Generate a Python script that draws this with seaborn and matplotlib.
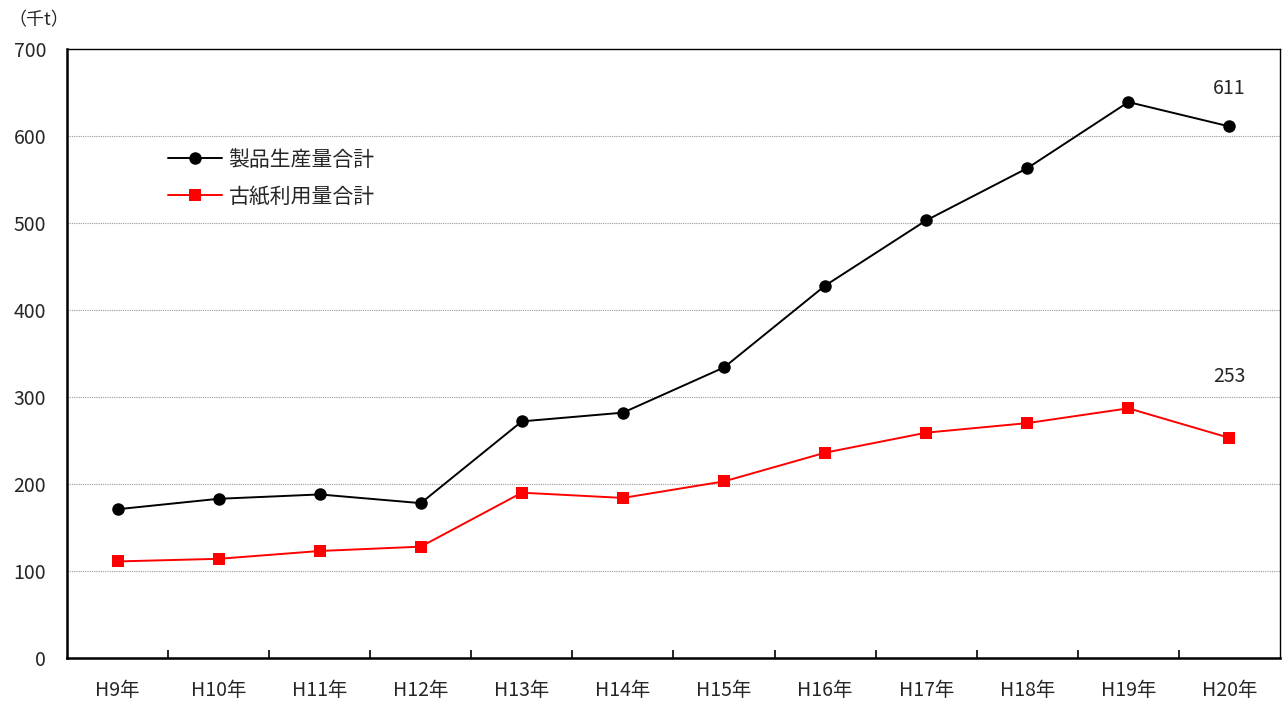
import numpy as np
import pandas as pd
import matplotlib
matplotlib.use("Agg")
import matplotlib.pyplot as plt
import seaborn as sns

years = ["H9年", "H10年", "H11年", "H12年", "H13年", "H14年",
         "H15年", "H16年", "H17年", "H18年", "H19年", "H20年"]
production = [171, 183, 188, 178, 272, 282, 334, 428, 503, 563, 639, 611]
wastepaper = [111, 114, 123, 128, 190, 184, 203, 236, 259, 270, 287, 253]

sns.set_style("white")
plt.rcParams['font.family'] = ['Noto Sans CJK JP', 'DejaVu Sans']

df = pd.DataFrame({
    "x": list(range(len(years))) * 2,
    "value": production + wastepaper,
    "series": ["製品生産量合計"] * len(years) + ["古紙利用量合計"] * len(years),
})

fig = plt.figure(figsize=(12.85, 7.08), dpi=100)
ax = fig.add_axes([67 / 1285, 50 / 708, 1213 / 1285, 609 / 708])

sns.lineplot(data=df, x="x", y="value", hue="series", style="series",
             palette={"製品生産量合計": "black", "古紙利用量合計": "#ff0000"},
             markers={"製品生産量合計": "o", "古紙利用量合計": "s"},
             dashes=False, markersize=9, linewidth=1.4, markeredgewidth=0,
             ax=ax)

ax.set_xlim(-0.5, len(years) - 0.5)
ax.set_ylim(0, 700)
ax.set_yticks(range(0, 701, 100))
ax.set_xticks(range(len(years)))
ax.set_xticklabels(years, fontsize=14)
ax.set_xticks(np.arange(0.5, len(years) - 0.5, 1), minor=True)
ax.tick_params(axis="x", which="major", length=0, pad=16, bottom=True)
ax.tick_params(axis="x", which="minor", length=6, direction="in", width=1.2,
               bottom=True, color="black")
ax.tick_params(axis="y", length=0, labelsize=14, pad=15)
ax.set_xlabel("")
ax.set_ylabel("")

for y in range(100, 700, 100):
    ax.axhline(y, color="#999999", linestyle=(0, (1, 1)), linewidth=0.8, zorder=0)

for side in ["left", "bottom"]:
    ax.spines[side].set_linewidth(1.8)
    ax.spines[side].set_color("black")
for side in ["top", "right"]:
    ax.spines[side].set_linewidth(1.0)
    ax.spines[side].set_color("black")

ax.text(len(years) - 1, production[-1] + 32, str(production[-1]),
        ha="center", va="bottom", fontsize=14)
ax.text(len(years) - 1, wastepaper[-1] + 58, str(wastepaper[-1]),
        ha="center", va="bottom", fontsize=14)

fig.text(8 / 1285, 1 - 20 / 708, "（千t）", fontsize=13, ha="left", va="center")

leg = ax.legend(loc="upper left", bbox_to_anchor=(0.068, 0.867), frameon=False,
                fontsize=15, handlelength=2.6, handletextpad=0.3,
                labelspacing=0.7)

fig.savefig("out.png", dpi=100)
